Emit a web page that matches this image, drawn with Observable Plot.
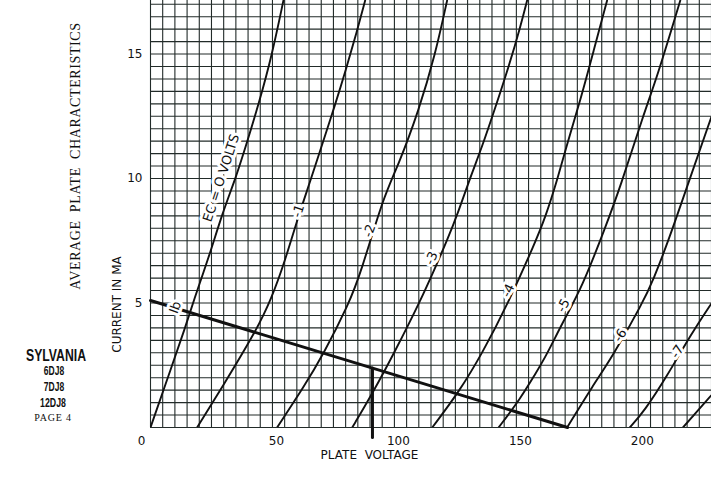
<!DOCTYPE html>
<html>
<head>
<meta charset="utf-8">
<script src="https://cdn.jsdelivr.net/npm/d3@7"></script>
<script src="https://cdn.jsdelivr.net/npm/@observablehq/plot@0.6"></script>
<style>
  body { margin: 0; background: #fff; }
  #wrap { position: relative; width: 711px; height: 481px; overflow: hidden; background: #fff; }
  .side { position: absolute; white-space: nowrap; color: #111; line-height: 1; }
  .serif { font-family: "Liberation Serif", "DejaVu Serif", serif; }
  .cond { font-family: "Liberation Sans", Arial, sans-serif; font-weight: bold; }
</style>
</head>
<body>
<div id="wrap">
  <div id="chart"></div>
  <div class="side serif" style="left:76px;top:156px;font-size:14px;letter-spacing:0.6px;transform:translate(-50%,-50%) rotate(-90deg);">AVERAGE&nbsp;&nbsp;PLATE&nbsp;&nbsp;CHARACTERISTICS</div>
  <div class="side cond" style="left:56px;top:355px;font-size:17px;transform:translate(-50%,-50%) scaleX(0.72);">SYLVANIA</div>
  <div class="side cond" style="left:54px;top:371px;font-size:12.5px;transform:translate(-50%,-50%) scaleX(0.68);">6DJ8</div>
  <div class="side cond" style="left:54px;top:387px;font-size:12.5px;transform:translate(-50%,-50%) scaleX(0.68);">7DJ8</div>
  <div class="side cond" style="left:53px;top:403px;font-size:12.5px;transform:translate(-50%,-50%) scaleX(0.7);">12DJ8</div>
  <div class="side serif" style="left:53px;top:418px;font-size:10px;letter-spacing:0.8px;transform:translate(-50%,-50%);">PAGE 4</div>
</div>
<script>
// ---- Data (plate voltage V, plate current mA) ----
const voltTicks = [50, 100, 150, 200];
const originTick = [0];
const currentTicks = [5, 10, 15];

const ec0 = [[0,0],[8.6,2.43],[14.1,3.97],[17.7,5.10],[23.9,6.83],[29.4,8.59],[35.0,10.04],[38.9,11.24],[44.4,13.0],[49.9,15.0],[54.5,17.15]];
const ec1 = [[19.1,0],[29.4,1.62],[43.0,3.83],[49.5,5.15],[55.2,6.71],[60.5,8.45],[65.6,9.92],[70.8,11.5],[75.5,12.9],[80.2,14.4],[84.6,15.9],[88.0,17.15]];
const ec2 = [[51.9,0],[62.8,1.62],[71.0,2.96],[81.3,4.97],[86.1,6.17],[95.6,9.3],[101.5,10.5],[110.0,12.73],[116.8,15.0],[121.6,17.15]];
const ec3 = [[82.7,0],[90.9,1.35],[100.4,3.09],[110.7,5.1],[116.8,6.44],[121.6,7.51],[126.4,8.71],[131.1,10.05],[135.9,11.26],[141.4,12.86],[146.8,14.47],[151.6,16.08],[154.4,17.15]];
const ec4 = [[115.5,0],[126.4,1.42],[135.9,2.96],[146.8,5.03],[157.8,7.45],[161.9,8.45],[166.7,9.92],[170.8,11.39],[176.2,13.13],[181.7,15.14],[187.2,17.15]];
const ec5 = [[142.7,0],[151.6,1.15],[157.8,2.16],[161.9,2.82],[169.4,4.30],[176.9,5.63],[186.5,8.04],[192.6,9.65],[202.2,12.6],[207.7,14.07],[217.2,17.15]];
const ec6 = [[170.8,0],[181.7,1.74],[188.9,2.76],[201.9,5.03],[206,5.9],[212.4,7.51],[221.3,10.05],[229.9,12.46]];
const ec7 = [[196.5,0],[202.6,0.68],[211.5,2.02],[221.7,3.76],[229.9,4.97]];
const ec8 = [[218.3,0],[229.9,1.29]];

const biasNames = ["0","-1","-2","-3","-4","-5","-6","-7","-8"];
const biasCurves = [ec0, ec1, ec2, ec3, ec4, ec5, ec6, ec7, ec8];

const loadLine = [[0,5.1],[171,0]];
const opMarker = [[91,2.39],[91,-0.4]];

const labelText  = ["EC = O VOLTS","-1","-2","-3","-4","-5","-6","-7","Ib"];
const labelV     = [29.0, 60.6, 89.8, 115.2, 146.7, 169.3, 192.6, 216.0, 10.2];
const labelI     = [10.02, 8.7, 7.9, 6.8, 5.5, 4.9, 3.7, 3.05, 4.82];
const labelAngle = [-72, -72, -70, -67, -64, -62, -57, -56, -70];

// ---- Build tables ----
const rows = biasCurves.flatMap((pts, k) => pts.map(([v, i]) => ({bias: biasNames[k], v, i})));
const labels = labelText.map((t, k) => ({t, v: labelV[k], i: labelI[k], a: labelAngle[k]}));
const gridV = d3.range(0, 231, 5);
const gridH = d3.range(0, 17.01, 0.5);
const gridColor = "#222b29";
const font = "DejaVu Sans, Liberation Sans, sans-serif";

const chart = Plot.plot({
  width: 711,
  height: 481,
  marginLeft: 150,
  marginRight: 0,
  marginTop: 0,
  marginBottom: 54,
  x: {domain: [0, 230]},
  y: {domain: [0, 17.15]},
  style: {fontFamily: font, fontSize: "12px", background: "white", color: "#111"},
  marks: [
    Plot.ruleX(gridV, {stroke: gridColor, strokeWidth: 1.1}),
    Plot.ruleY(gridH, {stroke: gridColor, strokeWidth: 1.1}),
    Plot.line(rows, {x: "v", y: "i", z: "bias", stroke: "#111", strokeWidth: 1.9, curve: "basis", clip: true}),
    Plot.line(loadLine, {x: d => d[0], y: d => d[1], stroke: "#111", strokeWidth: 3}),
    Plot.line(opMarker, {x: d => d[0], y: d => d[1], stroke: "#111", strokeWidth: 3}),
    Plot.text(labels, {x: "v", y: "i", text: "t", rotate: "a", fill: "#111", stroke: "white", strokeWidth: 6, fontSize: 13, fontFamily: font}),
    Plot.axisY(currentTicks, {anchor: "left", tickSize: 0, tickPadding: 8, label: null, fontSize: 12}),
    Plot.axisX(voltTicks, {anchor: "bottom", tickSize: 0, tickPadding: 9, dx: 4, label: null, fontSize: 12}),
    Plot.axisX(originTick, {anchor: "bottom", tickSize: 0, tickPadding: 9, dx: -9, label: null, fontSize: 12}),
    Plot.text(["CURRENT IN MA"], {frameAnchor: "bottom-left", textAnchor: "middle", lineAnchor: "middle", dx: -33, dy: -123, rotate: -90, fontSize: 12, fill: "#111"}),
    Plot.text(["PLATE\u00a0\u00a0VOLTAGE"], {frameAnchor: "bottom-left", textAnchor: "middle", lineAnchor: "middle", dx: 219, dy: 28, fontSize: 12, fill: "#111"})
  ]
});
document.getElementById("chart").appendChild(chart);
</script>
</body>
</html>
